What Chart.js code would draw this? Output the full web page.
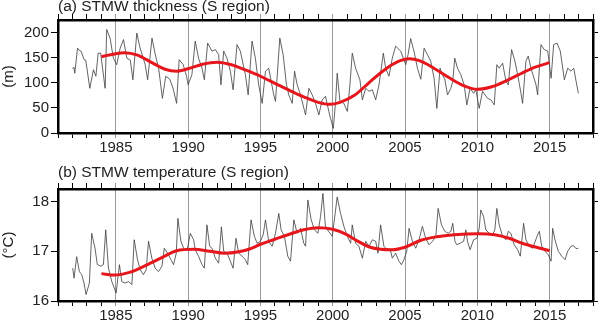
<!DOCTYPE html>
<html>
<head>
<meta charset="utf-8">
<script src="https://cdn.jsdelivr.net/npm/chart.js@4.4.1/dist/chart.umd.min.js"></script>
<style>
  body { margin: 0; background: #fff; }
  .panel { position: absolute; left: 0; }
</style>
</head>
<body>
<div class="panel" style="top:0"><canvas id="thickChart" width="600" height="160"></canvas></div>
<div class="panel" style="top:160px"><canvas id="tempChart" width="600" height="161"></canvas></div>
<script>
// (a) STMW thickness, raw series (decimal year, m)
const thickYears = [1982.00, 1982.10, 1982.16, 1982.35, 1982.45, 1982.60, 1982.80, 1982.92, 1983.20, 1983.45, 1983.62, 1983.78, 1983.95,
  1984.26, 1984.37, 1984.60, 1984.83, 1985.06, 1985.30, 1985.53, 1985.76, 1986.00, 1986.18, 1986.45, 1986.68, 1987.03, 1987.20,
  1987.50, 1987.73, 1987.96, 1988.22, 1988.45, 1988.73, 1988.96, 1989.20, 1989.38, 1989.66, 1989.89, 1990.00, 1990.26, 1990.49,
  1990.72, 1990.96, 1991.12, 1991.35, 1991.65, 1991.88, 1992.11, 1992.27, 1992.46, 1992.69, 1992.92, 1993.11, 1993.38, 1993.61,
  1993.96, 1994.15, 1994.42, 1994.65, 1994.88, 1995.12, 1995.35, 1995.57, 1995.92, 1996.04, 1996.34, 1996.57, 1996.80, 1996.96,
  1997.20, 1997.36, 1997.54, 1997.77, 1998.12, 1998.35, 1998.58, 1998.81, 1999.04, 1999.27, 1999.50, 1999.73, 1999.85, 2000.04,
  2000.20, 2000.31, 2000.50, 2000.77, 2001.01, 2001.19, 2001.35, 2001.58, 2001.88, 2002.05, 2002.28, 2002.51, 2002.74, 2002.97,
  2003.20, 2003.50, 2003.66, 2003.89, 2004.12, 2004.35, 2004.70, 2005.05, 2005.21, 2005.39, 2005.62, 2005.86, 2006.09, 2006.32,
  2006.55, 2006.78, 2007.01, 2007.20, 2007.42, 2007.59, 2007.75, 2007.94, 2008.17, 2008.30, 2008.44, 2008.63, 2008.86, 2009.09,
  2009.27, 2009.50, 2009.74, 2009.90, 2010.13, 2010.36, 2010.71, 2010.94, 2011.17, 2011.35, 2011.51, 2011.75, 2011.98, 2012.14,
  2012.37, 2012.60, 2012.79, 2013.02, 2013.13, 2013.36, 2013.52, 2013.71, 2014.06, 2014.17, 2014.40, 2014.63, 2014.87, 2015.10,
  2015.28, 2015.51, 2015.74, 2016.02, 2016.25, 2016.48, 2016.67, 2016.83, 2016.99];
const thickValues = [128, 131, 119, 169, 165, 163, 146, 145, 89, 126, 113, 159, 159,
  89, 206, 189, 149, 136, 169, 186, 149, 145, 106, 199, 169, 136, 106,
  189, 156, 129, 69, 113, 107, 89, 59, 146, 136, 113, 96, 116, 183,
  149, 129, 106, 179, 163, 166, 156, 96, 163, 149, 123, 86, 176, 163,
  116, 76, 183, 149, 96, 59, 123, 129, 76, 63, 189, 156, 96, 76,
  59, 123, 96, 76, 36, 89, 76, 59, 36, 66, 73, 43, 29, 9,
  63, 119, 63, 59, 43, 96, 159, 129, 106, 66, 89, 83, 86, 66,
  96, 159, 129, 113, 149, 173, 163, 136, 156, 188, 163, 129, 107, 169,
  156, 143, 109, 49, 129, 116, 107, 76, 89, 103, 149, 129, 116, 96,
  56, 89, 79, 86, 49, 83, 69, 66, 56, 136, 129, 139, 103, 96,
  166, 143, 116, 79, 59, 143, 153, 129, 96, 76, 176, 166, 163, 109,
  176, 179, 163, 106, 129, 123, 129, 103, 79];
// (a) low-pass trend
const thickTrendYears = [1984.0, 1985.0, 1985.6, 1986.5, 1987.5, 1988.4, 1989.2, 1990.0, 1991.0, 1992.0, 1993.0, 1994.0, 1995.0,
  1996.0, 1997.0, 1998.0, 1999.0, 1999.8, 2000.5, 2001.5, 2002.5, 2003.5, 2004.5, 2005.3, 2006.0, 2007.0, 2008.0, 2009.0,
  2010.0, 2011.0, 2012.0, 2013.0, 2014.0, 2015.0];
const thickTrend = [152, 158, 160, 155, 140, 127, 123, 128, 137, 141, 136, 125, 113,
  99, 85, 72, 61, 57, 61, 75, 100, 124, 142, 148, 144, 129, 111, 95,
  87, 92, 104, 118, 131, 140];

// (b) STMW temperature, raw series (decimal year, degC)
const tempYears = [1982.02, 1982.11, 1982.29, 1982.48, 1982.64, 1982.80, 1982.94, 1983.17, 1983.33, 1983.56, 1983.72, 1983.96,
  1984.14, 1984.30, 1984.49, 1984.72, 1985.02, 1985.25, 1985.41, 1985.64, 1985.87, 1986.11, 1986.27, 1986.50, 1986.68, 1986.91,
  1987.10, 1987.26, 1987.49, 1987.72, 1987.95, 1988.19, 1988.35, 1988.58, 1988.81, 1988.99, 1989.18, 1989.29, 1989.50, 1989.73,
  1989.96, 1990.15, 1990.38, 1990.49, 1990.72, 1990.96, 1991.12, 1991.30, 1991.49, 1991.65, 1991.88, 1992.11, 1992.30, 1992.46,
  1992.69, 1992.92, 1993.11, 1993.31, 1993.50, 1993.73, 1993.96, 1994.12, 1994.35, 1994.58, 1994.77, 1995.00, 1995.19, 1995.35,
  1995.57, 1995.81, 1996.04, 1996.27, 1996.43, 1996.66, 1996.89, 1997.08, 1997.31, 1997.54, 1997.77, 1998.00, 1998.12, 1998.28,
  1998.51, 1998.74, 1998.97, 1999.16, 1999.32, 1999.50, 1999.97, 2000.31, 2000.54, 2000.77, 2001.01, 2001.24, 2001.35, 2001.58,
  2001.81, 2002.05, 2002.28, 2002.51, 2002.74, 2002.97, 2003.13, 2003.31, 2003.54, 2003.78, 2004.01, 2004.12, 2004.35, 2004.58,
  2004.75, 2004.93, 2005.12, 2005.28, 2005.51, 2005.74, 2005.97, 2006.20, 2006.43, 2006.66, 2006.90, 2007.13, 2007.29, 2007.52,
  2007.75, 2007.98, 2008.17, 2008.30, 2008.45, 2008.58, 2008.81, 2009.05, 2009.21, 2009.32, 2009.50, 2009.74, 2009.97, 2010.13,
  2010.24, 2010.43, 2010.59, 2010.82, 2011.05, 2011.21, 2011.35, 2011.51, 2011.75, 2011.98, 2012.14, 2012.32, 2012.55, 2012.79,
  2012.97, 2013.20, 2013.36, 2013.59, 2013.83, 2014.13, 2014.29, 2014.45, 2014.68, 2014.91, 2015.10, 2015.21, 2015.37, 2015.60,
  2015.84, 2016.07, 2016.25, 2016.48, 2016.67, 2016.83, 2016.99];
const tempValues = [16.66, 16.46, 16.89, 16.59, 16.53, 16.36, 16.13, 16.36, 17.36, 17.06, 16.73, 16.70,
  16.73, 17.43, 16.66, 16.39, 16.16, 16.73, 16.39, 16.36, 16.39, 16.33, 17.23, 16.83, 16.63, 16.53,
  16.63, 17.20, 16.86, 16.66, 16.59, 16.70, 17.06, 16.96, 16.83, 16.73, 16.96, 17.66, 17.20, 17.03,
  17.06, 17.36, 17.23, 17.03, 16.90, 16.73, 16.66, 17.53, 17.10, 17.06, 16.86, 16.76, 17.49, 17.00,
  16.96, 16.80, 16.66, 17.26, 16.96, 16.90, 16.83, 16.73, 17.63, 17.30, 17.16, 17.20, 17.33, 17.63,
  17.20, 17.10, 17.36, 17.76, 17.43, 17.30, 16.90, 16.80, 17.63, 17.36, 17.46, 17.16, 17.10, 18.03,
  17.63, 17.43, 17.36, 17.70, 18.16, 17.48, 17.30, 18.09, 17.76, 17.50, 17.30, 17.16, 17.53, 17.16,
  17.10, 16.86, 17.20, 17.10, 17.23, 17.20, 16.96, 17.53, 17.10, 17.03, 17.00, 16.86, 16.96, 16.80,
  16.73, 16.83, 17.00, 17.46, 17.20, 17.06, 17.23, 17.50, 17.26, 17.13, 17.20, 17.30, 17.86, 17.53,
  17.40, 17.36, 17.40, 17.56, 17.20, 17.13, 17.16, 17.20, 17.43, 17.20, 17.03, 17.23, 17.26, 17.46,
  17.83, 17.70, 17.43, 17.36, 17.33, 17.43, 17.86, 17.53, 17.30, 17.23, 17.40, 17.36, 17.13, 17.03,
  16.90, 17.56, 17.23, 17.10, 17.06, 17.30, 17.40, 17.10, 17.00, 16.93, 16.80, 17.46, 17.23, 17.00,
  16.90, 16.83, 17.00, 17.10, 17.11, 17.05, 17.06];
// (b) low-pass trend
const tempTrendYears = [1984.0, 1984.9, 1986.0, 1986.9, 1988.1, 1989.2, 1990.4, 1991.5, 1992.5, 1993.5, 1994.3, 1995.0, 1996.0,
  1997.1, 1998.0, 1999.0, 2000.0, 2001.0, 2001.5, 2002.6, 2003.3, 2004.1, 2005.0, 2006.1, 2007.2, 2008.4, 2010.1, 2011.2,
  2012.2, 2013.1, 2014.2, 2015.0];
const tempTrend = [16.55, 16.52, 16.58, 16.69, 16.86, 17.01, 17.04, 17.00, 16.96, 16.99, 17.05, 17.14, 17.24,
  17.35, 17.43, 17.47, 17.44, 17.33, 17.24, 17.08, 17.04, 17.03, 17.08, 17.22, 17.29, 17.33, 17.35, 17.33,
  17.26, 17.16, 17.07, 17.01];

const FONT = 'Liberation Sans';
const TEXT = '#222';
const GRID = '#9a9a9a';

const toPoints = (xs, ys) => xs.map((x, i) => ({ x: x, y: ys[i] }));
const isMajor = ctx => ctx.tick && Math.round(ctx.tick.value) % 5 === 0;

function makePanel(id, p) {
    const titlePlugin = {
        id: 'panelTitle',
        afterDraw(chart) {
            const c = chart.ctx;
            c.save();
            c.font = '15.5px "' + FONT + '"';
            c.fillStyle = TEXT;
            c.textBaseline = 'middle';
            c.fillText(p.title, chart.chartArea.left, p.titleY);
            c.restore();
        }
    };
    return new Chart(document.getElementById(id), {
        type: 'line',
        data: {
            datasets: [{
                data: toPoints(p.trendX, p.trendY),
                borderColor: '#e5171c',
                borderWidth: 3,
                pointRadius: 0,
                cubicInterpolationMode: 'monotone'
            }, {
                data: toPoints(p.rawX, p.rawY),
                borderColor: '#3c3c3c',
                borderWidth: 0.8,
                pointRadius: 0,
                tension: 0
            }]
        },
        options: {
            responsive: false,
            animation: false,
            layout: { padding: 0 },
            plugins: { legend: { display: false }, tooltip: { enabled: false } },
            scales: {
                x: {
                    type: 'linear', position: 'bottom', min: 1981, max: 2018,
                    ticks: {
                        stepSize: 1, autoSkip: false, maxRotation: 0, padding: 1,
                        color: TEXT, font: { family: FONT, size: 15 },
                        callback: v => (v % 5 === 0 ? String(v) : '')
                    },
                    grid: {
                        color: ctx => (isMajor(ctx) ? GRID : 'rgba(0,0,0,0)'),
                        tickColor: ctx => (isMajor(ctx) ? GRID : '#000'),
                        tickLength: 5, lineWidth: 1
                    },
                    border: { color: '#000', width: 2.5 },
                    afterFit: s => { s.height = p.bottomH; }
                },
                x2: {
                    type: 'linear', position: 'top', min: 1981, max: 2018,
                    ticks: { stepSize: 1, autoSkip: false, maxRotation: 0, callback: () => '' },
                    grid: {
                        drawOnChartArea: false,
                        tickColor: ctx => (isMajor(ctx) ? GRID : '#000'),
                        tickLength: 6
                    },
                    border: { color: '#000', width: 2.5 },
                    afterFit: s => { s.height = p.topH; }
                },
                y: {
                    position: 'left', min: p.yMin, max: p.yMax,
                    ticks: {
                        stepSize: p.yStep, includeBounds: false, padding: 2,
                        color: TEXT, font: { family: FONT, size: 15 }
                    },
                    grid: { drawOnChartArea: false, tickColor: '#000', tickLength: 7 },
                    border: { color: '#000', width: 2.5 },
                    title: { display: true, text: p.yTitle, color: TEXT, font: { family: FONT, size: 15 }, padding: 0 },
                    afterFit: s => { s.width = 58; }
                },
                y2: {
                    position: 'right', min: p.yMin, max: p.yMax,
                    ticks: { stepSize: p.yStep, includeBounds: false, callback: () => '' },
                    grid: { drawOnChartArea: false, tickColor: '#000', tickLength: 5 },
                    border: { color: '#000', width: 2.5 },
                    afterFit: s => { s.width = 7; }
                }
            }
        },
        plugins: [titlePlugin]
    });
}

makePanel('thickChart', {
    title: '(a) STMW thickness (S region)', titleY: 7,
    rawX: thickYears, rawY: thickValues, trendX: thickTrendYears, trendY: thickTrend,
    yMin: 0, yMax: 225, yStep: 50, yTitle: '(m)', topH: 20, bottomH: 27
});

makePanel('tempChart', {
    title: '(b) STMW temperature (S region)', titleY: 13,
    rawX: tempYears, rawY: tempValues, trendX: tempTrendYears, trendY: tempTrend,
    yMin: 16, yMax: 18.25, yStep: 1, yTitle: '(°C)', topH: 29, bottomH: 20
});
</script>
</body>
</html>
